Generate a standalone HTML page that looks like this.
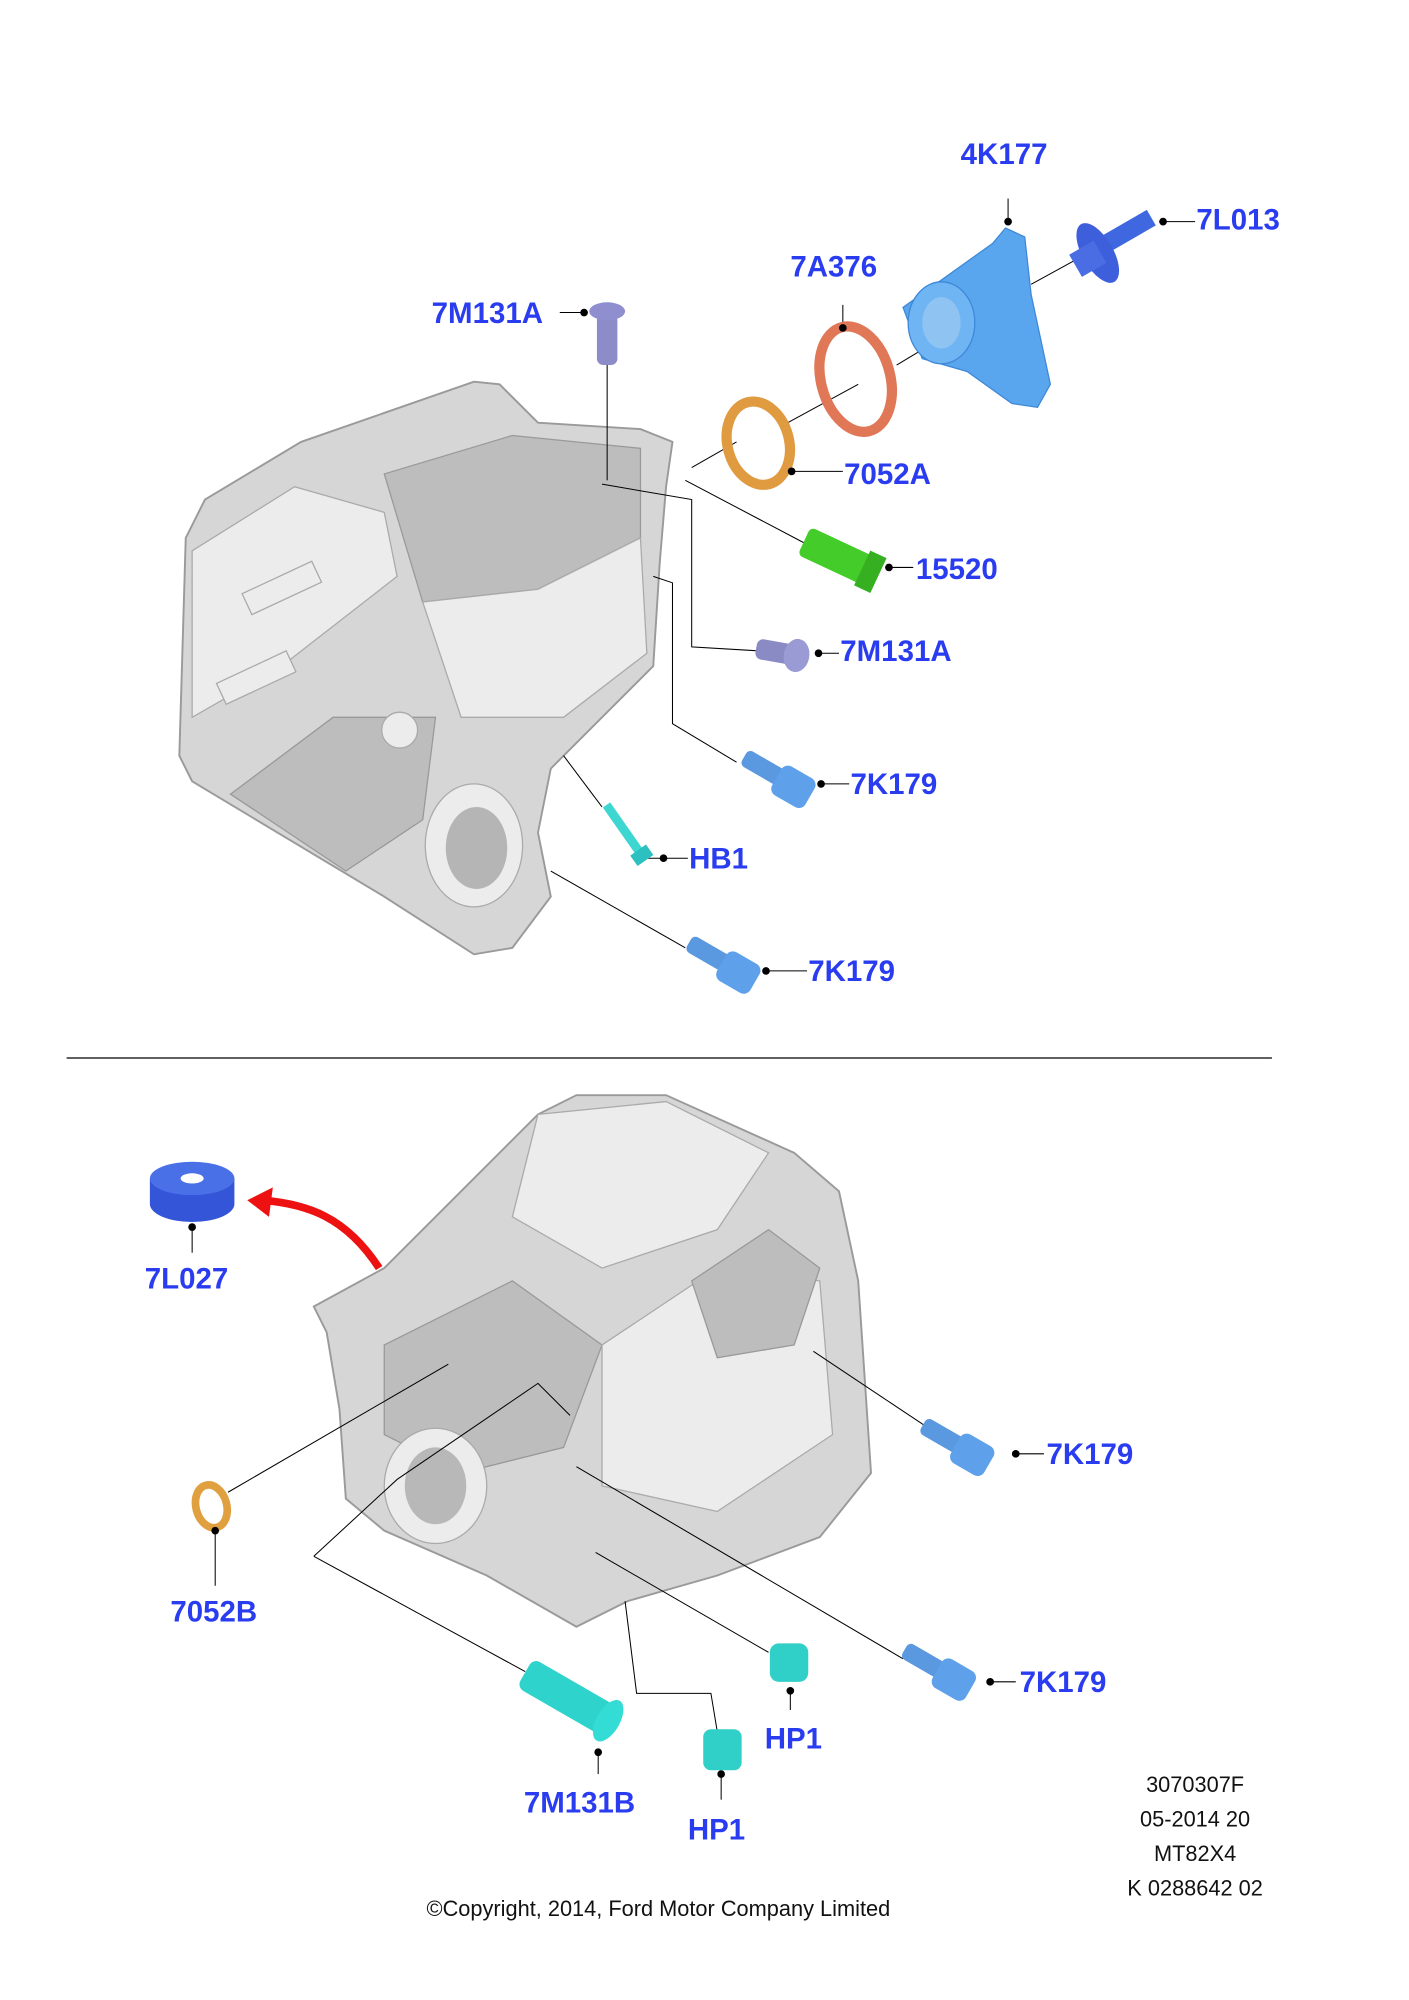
<!DOCTYPE html>
<html><head><meta charset="utf-8"><style>
html,body{margin:0;padding:0;background:#fff;}
svg{display:block;}
.l{font-family:"Liberation Sans",sans-serif;font-weight:bold;font-size:23px;fill:#2a3cf0;}
.t{font-family:"Liberation Sans",sans-serif;font-size:17px;fill:#111;}
.ln{stroke:#000;stroke-width:0.8;fill:none;}
.h{fill:#d6d6d6;stroke:#9a9a9a;stroke-width:1.5;}
.d{fill:#bdbdbd;stroke:#999;stroke-width:1;}
.w{fill:#ececec;stroke:#aaa;stroke-width:1;}
</style></head><body>
<svg width="1409" height="2000" viewBox="0 0 1100 1561.4" xmlns="http://www.w3.org/2000/svg">
<rect width="1100" height="1561.4" fill="#fff"/>
<!-- upper housing -->
<polygon class="h" points="160,390 235,345 370,298 390,300 420,330 500,335 525,345 520,380 515,440 510,520 470,560 430,600 420,650 430,700 400,740 370,745 300,700 150,610 140,590 145,420"/>
<polygon class="w" points="150,430 230,380 300,400 310,450 220,520 150,560"/>
<polygon class="d" points="300,370 400,340 500,350 500,420 420,460 330,470"/>
<polygon class="w" points="330,470 420,460 500,420 505,510 440,560 360,560"/>
<polygon class="d" points="180,620 260,560 340,560 330,640 270,680"/>
<ellipse cx="370" cy="660" rx="38" ry="48" class="w"/>
<ellipse cx="372" cy="662" rx="24" ry="32" fill="#b5b5b5"/>
<ellipse cx="312" cy="570" rx="14" ry="14" class="w"/>
<rect x="190" y="450" width="60" height="18" class="w" transform="rotate(-25 220 459)"/>
<rect x="170" y="520" width="60" height="18" class="w" transform="rotate(-25 200 529)"/>
<!-- lower housing -->
<polygon class="h" points="245,1020 300,990 420,870 450,855 520,855 620,900 655,930 670,1000 680,1150 640,1200 560,1230 490,1250 450,1270 380,1230 300,1195 270,1170 265,1100 255,1040"/>
<polygon class="w" points="420,870 520,860 600,900 560,960 470,990 400,950"/>
<polygon class="d" points="300,1050 400,1000 470,1050 440,1130 360,1150 300,1120"/>
<polygon class="w" points="470,1050 560,990 640,1000 650,1120 560,1180 470,1160"/>
<ellipse cx="340" cy="1160" rx="40" ry="45" class="w"/>
<ellipse cx="340" cy="1160" rx="24" ry="30" fill="#b8b8b8"/>
<polygon class="d" points="540,1000 600,960 640,990 620,1050 560,1060"/>
<!-- leader lines upper -->
<g class="ln">
<line x1="455" y1="244" x2="437" y2="244"/>
<line x1="474" y1="283" x2="474" y2="375"/>
<polyline points="470,378 540,390 540,505 590,508"/>
<line x1="787" y1="155" x2="787" y2="173"/>
<line x1="805" y1="222" x2="845" y2="200"/>
<line x1="905" y1="173" x2="933" y2="173"/>
<line x1="658" y1="238" x2="658" y2="255"/>
<line x1="700" y1="285" x2="725" y2="270"/>
<line x1="615" y1="330" x2="670" y2="300"/>
<line x1="540" y1="365" x2="575" y2="345"/>
<line x1="617" y1="368" x2="658" y2="368"/>
<line x1="535" y1="375" x2="630" y2="425"/>
<line x1="692" y1="443" x2="713" y2="443"/>
<line x1="637" y1="510" x2="655" y2="510"/>
<polyline points="510,450 525,455 525,565 575,595"/>
<line x1="640" y1="612" x2="663" y2="612"/>
<line x1="440" y1="590" x2="470" y2="630"/>
<line x1="506" y1="670" x2="537" y2="670"/>
<line x1="430" y1="680" x2="535" y2="740"/>
<line x1="598" y1="758" x2="630" y2="758"/>
<line x1="52" y1="826" x2="993" y2="826" stroke-width="1"/>
<!-- lower -->
<line x1="150" y1="958" x2="150" y2="978"/>
<line x1="178" y1="1165" x2="350" y2="1065"/>
<line x1="168" y1="1195" x2="168" y2="1238"/>
<polyline points="245,1215 310,1155 420,1080 445,1105"/>
<line x1="245" y1="1215" x2="410" y2="1305"/>
<line x1="467" y1="1368" x2="467" y2="1385"/>
<polyline points="488,1250 497,1322 555,1322 560,1352"/>
<line x1="563" y1="1385" x2="563" y2="1405"/>
<line x1="465" y1="1212" x2="600" y2="1290"/>
<line x1="617" y1="1320" x2="617" y2="1335"/>
<line x1="450" y1="1145" x2="705" y2="1295"/>
<line x1="773" y1="1313" x2="793" y2="1313"/>
<line x1="635" y1="1055" x2="725" y2="1115"/>
<line x1="795" y1="1135" x2="815" y2="1135"/>
</g>
<!-- parts upper -->
<g>
<rect x="466" y="245" width="16" height="40" rx="5" fill="#8c8cc8"/>
<ellipse cx="474" cy="243" rx="14" ry="7" fill="#8f8fd0"/>
<path d="M705,240 L775,190 L785,178 L800,185 L805,230 L820,300 L810,318 L790,315 L755,290 L720,280 Z" fill="#5aa6ee" stroke="#3d88d8"/>
<ellipse cx="735" cy="252" rx="26" ry="32" fill="#6fb4f3" stroke="#3d88d8"/>
<ellipse cx="735" cy="252" rx="15" ry="20" fill="#8fc4f2"/>
<g transform="rotate(-30 870 190)"><rect x="855" y="180" width="50" height="14" fill="#3f68e0"/><ellipse cx="855" cy="190" rx="12" ry="26" fill="#3e5fdc"/><rect x="835" y="180" width="22" height="20" fill="#4a6de4"/></g>
<ellipse cx="668" cy="296" rx="27" ry="42" transform="rotate(-15 668 296)" fill="none" stroke="#e07858" stroke-width="8"/>
<ellipse cx="592" cy="346" rx="24" ry="33" transform="rotate(-15 592 346)" fill="none" stroke="#e09a40" stroke-width="8"/>
<g transform="rotate(25 655 435)"><rect x="625" y="423" width="55" height="24" rx="4" fill="#44cc2a"/><rect x="675" y="420" width="14" height="30" fill="#36b020"/></g>
<g transform="rotate(10 612 510)"><rect x="590" y="502" width="30" height="16" rx="5" fill="#8a8ac4"/><ellipse cx="622" cy="510" rx="10" ry="13" fill="#9a9ad4"/></g>
<g transform="rotate(30 608 610)"><rect x="575" y="600" width="40" height="14" rx="4" fill="#5a98e0"/><rect x="605" y="595" width="30" height="26" rx="6" fill="#5fa0ea"/></g>
<g transform="rotate(55 488 650)"><rect x="462" y="646" width="48" height="7" fill="#3ed6d0"/><rect x="505" y="642" width="10" height="15" fill="#2cc0c0"/></g>
<g transform="rotate(30 565 755)"><rect x="532" y="745" width="40" height="14" rx="4" fill="#5a98e0"/><rect x="562" y="740" width="30" height="26" rx="6" fill="#5fa0ea"/></g>
<!-- parts lower -->
<path d="M117,920 L183,920 L183,940 A33,14 0 0 1 117,940 Z" fill="#3455d8"/>
<ellipse cx="150" cy="920" rx="33" ry="13" fill="#4a70e8"/>
<ellipse cx="150" cy="920" rx="9" ry="4" fill="#fff"/>
<path d="M296,990 C270,950 240,940 205,937" stroke="#ee1111" stroke-width="6" fill="none"/>
<polygon points="193,937 213,927 210,950" fill="#ee1111"/>
<ellipse cx="165" cy="1176" rx="12" ry="17" transform="rotate(-15 165 1176)" fill="none" stroke="#e0a040" stroke-width="6"/>
<g transform="rotate(30 445 1325)"><rect x="405" y="1313" width="75" height="26" rx="6" fill="#2ed4cc"/><ellipse cx="480" cy="1326" rx="9" ry="18" fill="#33ddd6"/></g>
<rect x="549" y="1350" width="30" height="32" rx="6" fill="#30d0c8"/>
<rect x="601" y="1283" width="30" height="30" rx="7" fill="#30d0c8"/>
<g transform="rotate(30 745 1130)"><rect x="715" y="1120" width="40" height="14" rx="4" fill="#5a98e0"/><rect x="745" y="1115" width="30" height="26" rx="6" fill="#5fa0ea"/></g>
<g transform="rotate(30 735 1308)"><rect x="700" y="1298" width="40" height="14" rx="4" fill="#5a98e0"/><rect x="730" y="1293" width="30" height="26" rx="6" fill="#5fa0ea"/></g>
</g>
<!-- dots -->
<g fill="#000">
<circle cx="787" cy="173" r="3"/><circle cx="908" cy="173" r="3"/><circle cx="658" cy="256" r="3"/>
<circle cx="456" cy="244" r="3"/><circle cx="618" cy="368" r="3"/><circle cx="694" cy="443" r="3"/>
<circle cx="639" cy="510" r="3"/><circle cx="641" cy="612" r="3"/><circle cx="518" cy="670" r="3"/>
<circle cx="598" cy="758" r="3"/><circle cx="150" cy="958" r="3"/><circle cx="168" cy="1195" r="3"/>
<circle cx="467" cy="1368" r="3"/><circle cx="563" cy="1385" r="3"/><circle cx="617" cy="1320" r="3"/>
<circle cx="773" cy="1313" r="3"/><circle cx="793" cy="1135" r="3"/>
</g>
<!-- labels -->
<g class="l">
<text x="750" y="128">4K177</text>
<text x="934" y="179">7L013</text>
<text x="617" y="216">7A376</text>
<text x="337" y="252">7M131A</text>
<text x="659" y="378">7052A</text>
<text x="715" y="452">15520</text>
<text x="656" y="516">7M131A</text>
<text x="664" y="620">7K179</text>
<text x="538" y="678">HB1</text>
<text x="631" y="766">7K179</text>
<text x="113" y="1006">7L027</text>
<text x="817" y="1143">7K179</text>
<text x="133" y="1266">7052B</text>
<text x="796" y="1321">7K179</text>
<text x="597" y="1365">HP1</text>
<text x="409" y="1415">7M131B</text>
<text x="537" y="1436">HP1</text>
</g>
<g class="t" text-anchor="middle">
<text x="933" y="1399">3070307F</text>
<text x="933" y="1426">05-2014 20</text>
<text x="933" y="1453">MT82X4</text>
<text x="933" y="1480">K 0288642 02</text>
<text x="514" y="1496">©Copyright, 2014, Ford Motor Company Limited</text>
</g>
</svg>
</body></html>
